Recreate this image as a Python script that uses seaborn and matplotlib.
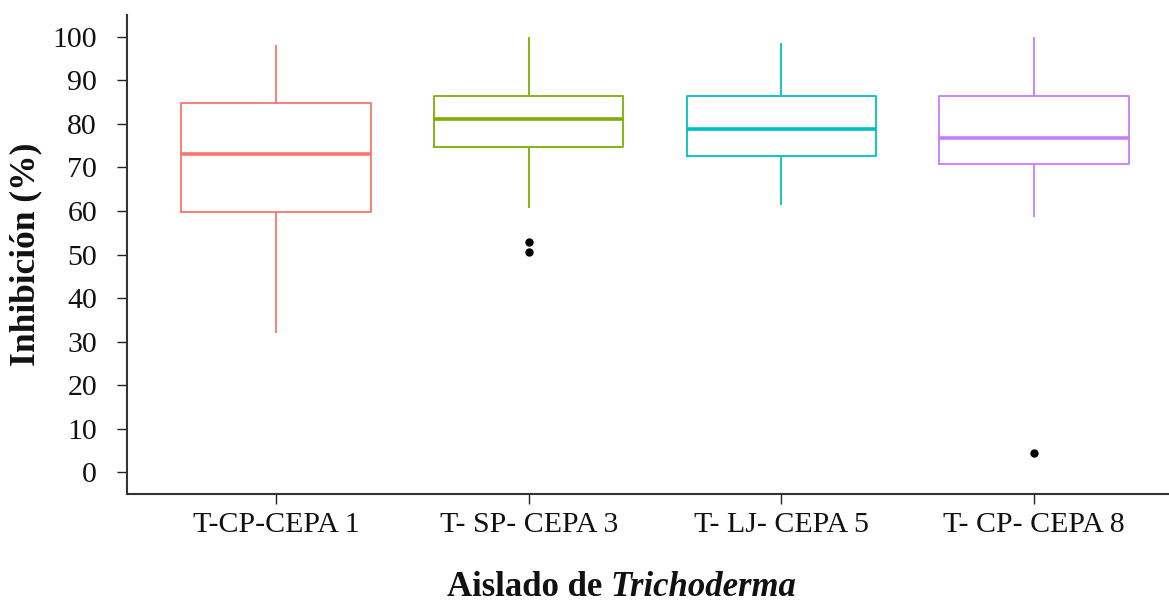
import pandas as pd
import seaborn as sns
import matplotlib.pyplot as plt

# inhibition values (%) per isolate
cepa_1 = [32.0, 45.0, 59.8, 66.0, 73.0, 79.0, 84.7, 91.0, 98.1]
cepa_3 = [50.6, 52.9, 60.6, 74.7, 77.0, 79.0, 81.2, 83.0, 85.0, 86.3, 90.0, 95.0, 100.0]
cepa_5 = [61.4, 67.0, 72.6, 75.0, 78.8, 82.0, 86.3, 92.0, 98.5]
cepa_8 = [4.5, 58.7, 65.0, 70.7, 72.0, 74.0, 76.7, 80.0, 84.0, 86.3, 90.0, 95.0, 99.9]

labels = ['T-CP-CEPA 1', 'T- SP- CEPA 3', 'T- LJ- CEPA 5', 'T- CP- CEPA 8']
colors = ['#F8766D', '#7CAE00', '#00BFC4', '#C77CFF']

df = pd.concat([
    pd.DataFrame({'aislado': lab, 'inhibicion': vals})
    for lab, vals in zip(labels, [cepa_1, cepa_3, cepa_5, cepa_8])
])

sns.set_style('ticks')
plt.rcParams['font.family'] = ['Liberation Serif', 'DejaVu Serif']

fig = plt.figure(figsize=(11.69, 6.03), dpi=100)
ax = fig.add_axes([0.1086, 0.1808, 0.8905, 0.7942])

sns.boxplot(data=df, x='aislado', y='inhibicion', hue='aislado',
            palette=colors, fill=False, width=0.75, linewidth=1.3,
            medianprops={'linewidth': 2.6},
            capprops={'linewidth': 0},
            flierprops={'marker': 'o', 'markersize': 5,
                        'markerfacecolor': 'black', 'markeredgecolor': 'black'},
            legend=False, ax=ax)

# fliers in black
for line in ax.lines:
    if line.get_linestyle() in ('None', '') and line.get_marker() == 'o':
        line.set_color('black')
        line.set_markerfacecolor('black')
        line.set_markeredgecolor('black')

ax.set_xlim(-0.59, 3.53)
ax.set_ylim(-5, 105)
ax.set_yticks(range(0, 101, 10))
sns.despine(ax=ax)
for sp in ['left', 'bottom']:
    ax.spines[sp].set_linewidth(1.5)
    ax.spines[sp].set_color('#333333')

ax.tick_params(axis='y', labelsize=21.5, length=7, width=1, pad=14.5, colors='#222222')
ax.tick_params(axis='x', labelsize=21.5, length=7, width=1, pad=6, colors='#222222')
for lab in ax.get_xticklabels() + ax.get_yticklabels():
    lab.set_color('#111111')

ax.set_ylabel('Inhibición (%)', fontsize=25.5, fontweight='bold', color='#111111')
ax.yaxis.set_label_coords(-0.081, 0.5)
ax.set_xlabel('')

t = ax.text(0.307, -0.212, 'Aislado de ', transform=ax.transAxes, color='#111111',
            fontsize=25, fontweight='bold', ha='left', va='baseline')
ax.annotate('Trichoderma', xy=(1, 0), xycoords=t, fontsize=25, color='#111111',
            fontweight='bold', fontstyle='italic', ha='left', va='bottom')

plt.savefig('out.png', dpi=100)
